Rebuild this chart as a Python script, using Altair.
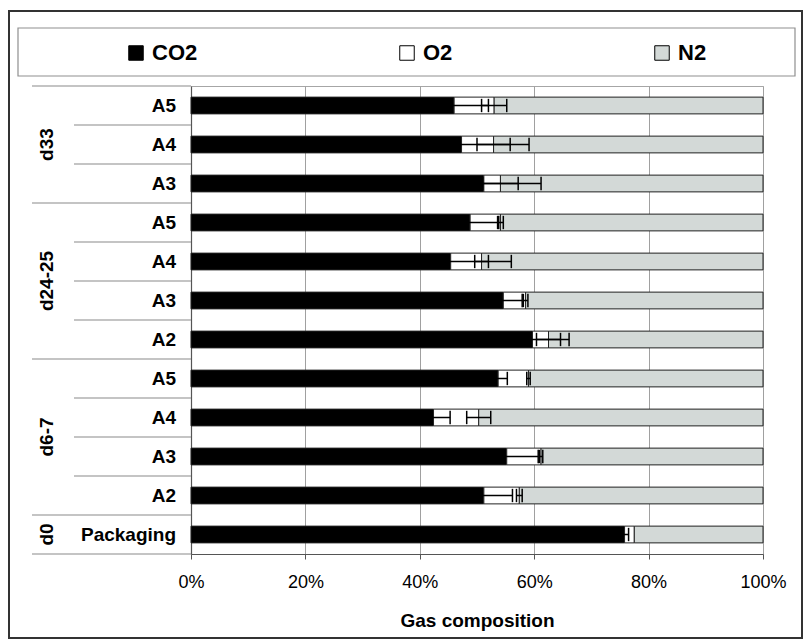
import altair as alt
import pandas as pd

# Rows from top to bottom: storage day group and sample
groups = ["d33", "d33", "d33", "d24-25", "d24-25", "d24-25", "d24-25",
          "d6-7", "d6-7", "d6-7", "d6-7", "d0"]
samples = ["A5", "A4", "A3", "A5", "A4", "A3", "A2",
           "A5", "A4", "A3", "A2", "Packaging"]

# Gas composition (%) and error bar half-widths (%)
co2 = [46.0, 47.3, 51.2, 48.8, 45.4, 54.6, 59.7, 53.7, 42.4, 55.2, 51.2, 75.8]
o2 = [7.0, 5.6, 2.9, 5.3, 5.4, 3.9, 2.8, 5.3, 7.9, 6.0, 6.2, 1.7]
co2_err = [6.0, 11.8, 10.0, 5.0, 10.6, 3.3, 6.4, 1.6, 2.9, 5.5, 5.0, 0.7]
o2_err = [2.2, 2.9, 3.1, 0.5, 1.2, 0.4, 2.1, 0.3, 2.1, 0.3, 0.5, 0.0]

gases = ["CO2", "O2", "N2"]
gas_colors = ["#000000", "#ffffff", "#d3d9d7"]
x_ticks = [0, 20, 40, 60, 80, 100]

FONT = "Liberation Sans"
n_rows = len(samples)

# stacked segments
seg_rows = []
for i in range(n_rows):
    n2 = 100 - co2[i] - o2[i]
    start = 0.0
    for gas, val in zip(gases, [co2[i], o2[i], n2]):
        seg_rows.append({"gas": gas, "start": start, "end": start + val,
                         "pos": i + 0.5})
        start += val
seg = pd.DataFrame(seg_rows)

# error bars centred on each cumulative segment end
err_rows = []
for i in range(n_rows):
    for end, e in [(co2[i], co2_err[i]), (co2[i] + o2[i], o2_err[i])]:
        if e > 0:
            err_rows.append({"lo": end - e, "hi": end + e, "pos": i + 0.5})
err = pd.DataFrame(err_rows)
caps = pd.concat([
    err.assign(xv=err["lo"]), err.assign(xv=err["hi"])
])[["xv", "pos"]]

labels = pd.DataFrame({"sample": samples, "pos": [i + 0.5 for i in range(n_rows)]})

# group labels and separators
grp_rows, bounds_major, bounds_minor = [], [0], []
first = 0
for i in range(1, n_rows + 1):
    if i == n_rows or groups[i] != groups[i - 1]:
        grp_rows.append({"group": groups[i - 1], "pos": (first + i) / 2})
        bounds_major.append(i)
        first = i
    else:
        bounds_minor.append(i)
grp = pd.DataFrame(grp_rows)
major = pd.DataFrame({"b": bounds_major})
minor = pd.DataFrame({"b": bounds_minor})
one = pd.DataFrame({"k": [0]})

xscale = alt.Scale(domain=[0, 100], nice=False, zero=True)
yscale = alt.Scale(domain=[0, n_rows], reverse=True, nice=False, zero=False)

xaxis = alt.Axis(
    values=x_ticks, labelExpr="datum.value + '%'", labelFlush=False,
    labelFont=FONT, labelFontSize=18, labelColor="#000", labelPadding=14,
    tickSize=5, tickColor="#555", domainColor="#555", domainWidth=1.2,
    grid=True, gridColor="#a0a0a0", gridWidth=1,
    title="Gas composition", titleFont=FONT, titleFontSize=19,
    titleFontWeight="bold", titleColor="#000", titlePadding=20,
)
yaxis = alt.Axis(labels=False, ticks=False, grid=False, title=None,
                 domainColor="#555", domainWidth=1.2)

bars = alt.Chart(seg).mark_rect(stroke="#222", strokeWidth=1).transform_calculate(
    y1="datum.pos - 0.215", y2="datum.pos + 0.215"
).encode(
    x=alt.X("start:Q", scale=xscale, axis=xaxis),
    x2="end:Q",
    y=alt.Y("y1:Q", scale=yscale, axis=yaxis),
    y2="y2:Q",
    fill=alt.Fill(
        "gas:N",
        scale=alt.Scale(domain=gases, range=gas_colors),
        legend=alt.Legend(
            orient="none", legendX=-66, legendY=-44, direction="horizontal",
            title=None, symbolType="square", symbolSize=210,
            symbolStrokeColor="#000", symbolStrokeWidth=1,
            labelFont=FONT, labelFontSize=22, labelFontWeight="bold",
            labelColor="#000", labelOffset=5, columnPadding=198, padding=0,
        ),
    ),
)

err_lines = alt.Chart(err).mark_rule(color="#000", strokeWidth=1.5).encode(
    x="lo:Q", x2="hi:Q", y="pos:Q"
)
err_caps = alt.Chart(caps).mark_rule(color="#000", strokeWidth=1.5).transform_calculate(
    ya="datum.pos - 0.171", yb="datum.pos + 0.171"
).encode(x="xv:Q", y="ya:Q", y2="yb:Q")

sample_text = alt.Chart(labels).mark_text(
    align="right", baseline="middle", font=FONT, fontSize=19,
    fontWeight="bold", color="#000"
).encode(x=alt.value(-15), y="pos:Q", text="sample:N")

group_text = alt.Chart(grp).mark_text(
    angle=270, align="center", baseline="middle", font=FONT, fontSize=19,
    fontWeight="bold", color="#000"
).encode(x=alt.value(-144), y="pos:Q", text="group:N")

major_lines = alt.Chart(major).mark_rule(color="#8a8a8a", strokeWidth=1.2).encode(
    x=alt.value(-159), x2=alt.value(0), y="b:Q"
)
minor_lines = alt.Chart(minor).mark_rule(color="#8a8a8a", strokeWidth=1.2).encode(
    x=alt.value(-117), x2=alt.value(0), y="b:Q"
)

legend_box = alt.Chart(one).mark_rect(
    filled=False, stroke="#8f8f8f", strokeWidth=1.2
).encode(x=alt.value(-173), x2=alt.value(604), y=alt.value(-58), y2=alt.value(-10))

outer_frame = alt.Chart(one).mark_rect(
    filled=False, stroke="#333", strokeWidth=2
).encode(x=alt.value(-182), x2=alt.value(611), y=alt.value(-75), y2=alt.value(552))

chart = alt.layer(
    outer_frame, legend_box, major_lines, minor_lines,
    bars, err_lines, err_caps, sample_text, group_text
).properties(
    width=572, height=468,
    padding={"left": 191, "top": 86, "right": 49, "bottom": 86},
    autosize=alt.AutoSizeParams(type="none"),
    background="#ffffff",
).configure_view(stroke="#a6a6a6", strokeWidth=1)

chart.save("out.html", embed_options={"renderer": "svg", "actions": False})
